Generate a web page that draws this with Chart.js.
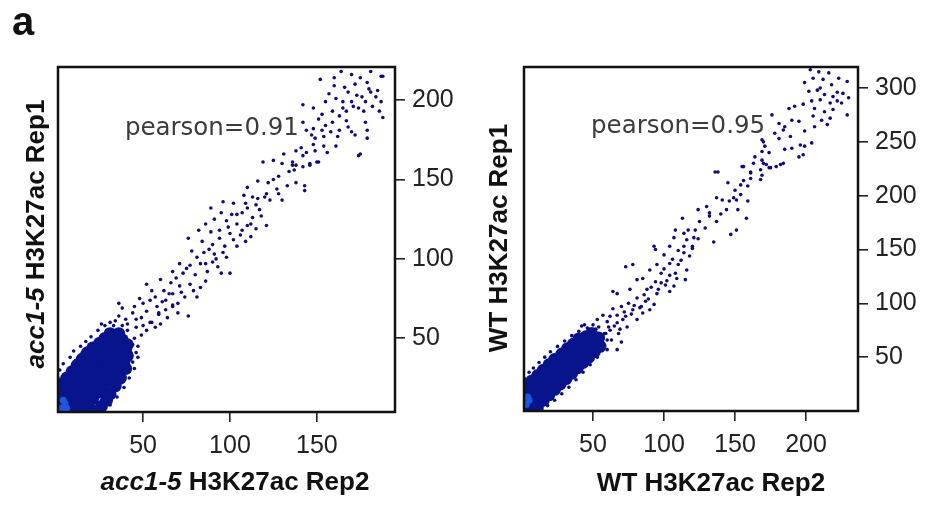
<!DOCTYPE html>
<html>
<head>
<meta charset="utf-8">
<script src="https://cdn.jsdelivr.net/npm/chart.js@4.4.1/dist/chart.umd.min.js"></script>
<style>
    body { margin: 0; background: #fff; }
    #wrap { position: relative; width: 925px; height: 506px; }
    canvas { position: absolute; top: 0; }
    #left { left: 0; }
    #right { left: 462px; }
</style>
</head>
<body>
<div id="wrap">
    <canvas id="left" width="462" height="506" style="width:462px;height:506px"></canvas>
    <canvas id="right" width="463" height="506" style="width:463px;height:506px"></canvas>
</div>
<script>
// tick labels
const leftXTicks = [50, 100, 150];
const leftYTicks = [50, 100, 150, 200];
const rightXTicks = [50, 100, 150, 200];
const rightYTicks = [50, 100, 150, 200, 250, 300];

// axis ranges (Rep2 on x, Rep1 on y)
const leftXRange = [1, 195];
const leftYRange = [3.6, 220.8];
const rightXRange = [1.4, 236.6];
const rightYRange = [0, 319.5];

// acc1-5: scattered points [Rep2, Rep1]
const leftCloud = [
    [164,218],[181,218],[187,215],[175,214],[152,213],[188,215],
    [160,209],[166,208],[179,211],[180,207],[181,205],[157,204],[168,205],[173,203],[176,202],[184,202],[187,199],[161,201],[165,199],[170,199],[178,199],
    [171,196],[174,195],[167,193],[182,196],[188,189],[159,193],[153,191],[142,197],[151,188],[163,190],[167,187],[159,186],[178,186],[142,186],
    [144,181],[148,182],[153,181],[158,180],[163,181],[168,183],[170,180],[179,181],[147,178],[149,176],[154,177],[162,177],[172,178],[179,176],
    [154,171],[161,171],[175,166],[138,168],[141,170],[144,167],[149,168],[156,167],[136,161],[138,159],[142,158],[146,159],[150,161],[137,156],[143,146],[174,165],
    [119,161],[125,162],[130,160],[136,159],[142,165],[146,160],[151,161],[116,149],[121,141],[127,144],[133,146],[138,148],[143,143],[130,137],
    [110,145],[108,140],[113,139],[120,139],[96,136],[102,135],[109,135],[115,134],[89,132],[95,129],[101,128],[107,129],[113,126],[118,127],[121,121],
    [91,125],[98,124],[104,122],[110,121],[115,119],[86,122],[82,118],[89,117],[94,118],[100,116],[106,115],[112,114],
    [76,113],[84,111],[90,109],[97,108],[104,108],[109,111],[78,105],[85,104],[91,103],[98,101],
    [71,97],[77,96],[83,97],[90,98],[100,91],[67,92],[73,91],[80,90],[87,92],
    [60,87],[66,85],[71,83],[77,84],[83,82],[52,84],[55,80],[62,80],[67,78],[74,76],[81,76],
    [48,75],[54,74],[61,73],[67,71],[76,64],[45,70],[52,67],[59,65],[64,63],[46,62],[54,60],[60,59],
    [38,69],[44,66],[49,63],[55,60],[34,61],[41,59],[46,57],[52,55],[57,57],[29,55],[22,46],[19,42],[44,46],[46,41],[44,35],[42,29],[38,23],[32,17],[26,11],
    [11,36],[7,30],[3,23],[15,41],[59,66],[63,74],[67,70],[36,72],
    [58,70],[63,68],[70,72],[72,79],[79,80],[86,86],[93,95],[96,104],[102,112],[107,118],[112,122],[117,131],[123,137],[128,141],
    [69,88],[75,94],[81,101],[88,106],[94,113],[99,120],[65,78],[57,76],[50,72],[70,66],[92,100],[95,91],[86,97],[104,128],[110,132],
    [116,138],[122,148],[128,152],[134,155],[131,166],[125,150],[148,172],[155,184],[165,195],[185,206],[177,193],[186,193],[172,210],
    [160,214],[170,216],[148,195],[155,199],
    [1,25],[2,30],[4,34],[8,38],[10,42],[14,45],[17,48],[20,51],[24,55],[28,58],[33,58],[38,58],[41,55],[45,50],[47,45],
    [47,38],[45,31],[42,25],[39,19],[35,13],[31,8],[27,5],[24,2],[40,62],[50,58],[49,52],[36,64],[31,60],[26,59]
];
// acc1-5: dense core near the origin
const leftCore = [
    [2,3],[5,6],[8,10],[11,14],[14,18],[17,22],[20,26],[23,30],[26,34],[29,38],[32,41],[35,45],[38,49],
    [1,9],[3,12],[6,16],[9,20],[12,24],[15,28],[18,32],[21,36],[24,40],[27,44],[30,47],[33,51],[36,53],
    [7,2],[10,5],[13,9],[16,13],[19,17],[22,21],[25,25],[28,29],[31,33],[34,36],[37,40],[40,43],[41,46],
    [1,16],[3,21],[6,25],[9,29],[12,33],[15,37],[18,41],[21,44],[25,47],[28,50],[31,53],
    [12,2],[15,5],[18,8],[21,12],[24,16],[27,20],[30,24],[33,28],[36,31],[39,35],[41,39],
    [22,4],[26,7],[29,11],[31,15],[34,20],[37,25],[40,31]
];
const leftPeak = [[3,6],[5,9],[4,11],[6,6]];

// WT: scattered points [Rep2, Rep1]
const rightCloud = [
    [203,317],[209,315],[216,314],[199,305],[205,309],[212,308],[223,309],[229,306],[202,297],[208,298],[213,294],[219,292],[226,295],[230,291],
    [204,288],[210,289],[217,286],[222,288],[206,281],[213,278],[219,280],[225,286],[205,274],[211,270],[217,272],[229,275],[215,266],[206,264],
    [188,281],[192,283],[195,269],[176,275],[185,264],[181,267],[189,255],[199,260],[204,249],[199,246],[196,247],[181,253],[184,261],[170,250],
    [169,241],[185,243],[190,244],[195,236],[198,238],[164,236],[169,233],[172,229],[179,227],[184,230],[175,226],[155,227],[161,222],[169,219],[161,216],
    [169,252],[171,246],[170,230],[168,224],[174,226],[182,229],[156,227],[161,221],[168,215],[136,222],[138,222],[145,212],[150,205],[154,210],
    [159,209],[159,195],[151,196],[154,201],[149,198],[137,198],[141,196],[144,187],[158,179],[132,181],[132,184],[124,187],[130,190],[137,176],
    [151,168],[147,164],[135,157],[125,176],[122,168],[117,168],[113,179],[108,168],[114,165],[107,161],[116,159],[121,161],[114,153],[104,153],[93,153],[120,153],
    [94,150],[100,145],[114,147],[120,151],[104,137],[110,136],[116,131],[95,136],[98,128],[104,126],[109,123],[115,122],[90,131],[85,123],
    [94,120],[101,117],[107,116],[104,111],[73,134],[78,136],[81,122],[88,113],[95,109],[76,113],[67,109],[81,105],[87,102],[93,99],[75,100],
    [70,97],[78,94],[85,91],[64,95],[67,89],[73,88],[81,85],[57,89],[60,83],[67,82],[74,78],[53,85],[54,78],[62,75],[68,72],[48,75],[57,69],
    [63,66],[44,80],[67,57],[60,57],[54,60],[70,64],[64,111],
    [59,72],[65,79],[71,85],[77,90],[83,96],[89,104],[96,113],[102,121],[108,128],[112,140],[118,144],[124,160],[129,170],[140,183],
    [146,195],[152,187],[156,214],[163,230],[174,240],[178,258],[190,270],[198,285],[210,300],[218,303],[222,296],
    [61,78],[69,76],[72,92],[79,98],[86,108],[91,115],[98,119],[100,132],[106,141],[110,149],[84,97],[90,94],[62,88],[50,80],
    [1,25],[2,30],[5,36],[8,40],[12,45],[16,50],[20,55],[25,60],[30,65],[35,70],[40,74],[46,77],[52,76],[58,72],[60,66],
    [57,58],[53,50],[48,43],[43,36],[38,29],[33,22],[28,16],[23,10],[18,5],[14,2],[42,79],[50,70],[56,64]
];
// WT: dense core near the origin
const rightCore = [
    [2,3],[6,8],[10,13],[14,18],[18,23],[22,28],[26,33],[30,38],[34,43],[38,48],[42,53],[46,58],[50,63],[54,68],
    [1,10],[3,14],[6,19],[9,24],[13,29],[17,34],[21,39],[25,44],[29,49],[33,54],[37,59],[41,64],[45,69],[49,72],
    [8,2],[11,5],[15,10],[19,15],[23,20],[27,25],[31,30],[35,35],[39,40],[43,45],[47,50],[51,55],[55,60],
    [1,18],[3,23],[7,28],[11,33],[15,38],[19,43],[23,48],[28,53],[32,58],[36,62],[40,67]
];
const rightPeak = [[3,6],[5,10],[4,13]];

const toXY = pts => pts.map(p => ({ x: p[0], y: p[1] }));

function drawParts(ctx, parts, cx, cy, angle) {
    let total = 0;
    parts.forEach(function(p) {
        ctx.font = (p[1] ? 'italic ' : '') + 'bold 26px "Liberation Sans"';
        total += ctx.measureText(p[0]).width;
    });
    ctx.save();
    ctx.translate(cx, cy);
    ctx.rotate(angle);
    ctx.textBaseline = 'middle';
    ctx.textAlign = 'left';
    ctx.fillStyle = '#111';
    let x = -total / 2;
    parts.forEach(function(p) {
        ctx.font = (p[1] ? 'italic ' : '') + 'bold 26px "Liberation Sans"';
        ctx.fillText(p[0], x, 0);
        x += ctx.measureText(p[0]).width;
    });
    ctx.restore();
}

const framePlugin = {
    id: 'frame',
    afterDatasetsDraw(chart, args, opts) {
        const a = chart.chartArea;
        const ctx = chart.ctx;
        ctx.save();
        ctx.strokeStyle = '#111';
        ctx.lineWidth = 2.5;
        ctx.strokeRect(a.left, a.top, a.right - a.left, a.bottom - a.top);

        ctx.font = '24.5px "DejaVu Sans"';
        ctx.fillStyle = '#3c3c3c';
        ctx.textBaseline = 'middle';
        ctx.textAlign = 'left';
        ctx.fillText(opts.pearson, chart.scales.x.getPixelForValue(opts.pearsonAt[0]), chart.scales.y.getPixelForValue(opts.pearsonAt[1]));

        if (opts.panel) {
            ctx.font = 'bold 40px "Liberation Sans"';
            ctx.fillStyle = '#111';
            ctx.textBaseline = 'alphabetic';
            ctx.fillText(opts.panel, 12, 35);
        }
        ctx.restore();

        drawParts(ctx, opts.xTitle, opts.xTitleAt[0], opts.xTitleAt[1], 0);
        drawParts(ctx, opts.yTitle, opts.yTitleAt[0], opts.yTitleAt[1], -Math.PI / 2);
    }
};

function axes(xr, yr, xt, yt, yWidth, xHeight) {
    const tickFont = { family: 'Liberation Sans', size: 25 };
    const grid = { display: true, drawOnChartArea: false, drawTicks: true, tickLength: 10, color: '#222', lineWidth: 1.6 };
    return {
        x: {
            type: 'linear', position: 'bottom', min: xr[0], max: xr[1],
            afterBuildTicks: function(s) { s.ticks = xt.map(v => ({ value: v })); },
            afterFit: function(s) { s.height = xHeight; },
            grid: grid,
            border: { display: false },
            ticks: { font: tickFont, color: '#222', padding: 9, maxRotation: 0, autoSkip: false, callback: v => String(v) }
        },
        y: {
            type: 'linear', position: 'right', min: yr[0], max: yr[1],
            afterBuildTicks: function(s) { s.ticks = yt.map(v => ({ value: v })); },
            afterFit: function(s) { s.width = yWidth; },
            grid: grid,
            border: { display: false },
            ticks: { font: tickFont, color: '#222', padding: 7, autoSkip: false, callback: v => String(v) }
        }
    };
}

function datasets(cloud, core, peak) {
    return [
        { data: toXY(peak), backgroundColor: '#1f55e0', pointRadius: 3.5, borderWidth: 0, order: 0 },
        { data: toXY(core), backgroundColor: '#08148c', pointRadius: 6.4, borderWidth: 0, order: 1 },
        { data: toXY(cloud), backgroundColor: '#0c0c7a', pointRadius: 1.8, borderWidth: 0, order: 2 }
    ];
}

function baseOptions(padLeft, scales, frame) {
    return {
        responsive: false,
        animation: false,
        devicePixelRatio: 1,
        events: [],
        layout: { padding: { left: padLeft, top: 67, right: 0, bottom: 0 } },
        scales: scales,
        plugins: { legend: { display: false }, tooltip: { enabled: false }, frame: frame }
    };
}

document.addEventListener('DOMContentLoaded', function() {
    new Chart(document.getElementById('left'), {
        type: 'scatter',
        data: { datasets: datasets(leftCloud, leftCore, leftPeak) },
        options: baseOptions(58, axes(leftXRange, leftYRange, leftXTicks, leftYTicks, 67, 94), {
            pearson: 'pearson=0.91', pearsonAt: [39.5, 182],
            panel: 'a',
            xTitle: [['acc1-5', true], [' H3K27ac Rep2', false]], xTitleAt: [235, 483],
            yTitle: [['acc1-5', true], [' H3K27ac Rep1', false]], yTitleAt: [37, 234]
        }),
        plugins: [framePlugin]
    });

    new Chart(document.getElementById('right'), {
        type: 'scatter',
        data: { datasets: datasets(rightCloud, rightCore, rightPeak) },
        options: baseOptions(62, axes(rightXRange, rightYRange, rightXTicks, rightYTicks, 67, 95), {
            pearson: 'pearson=0.95', pearsonAt: [48.6, 264],
            panel: '',
            xTitle: [['WT H3K27ac Rep2', false]], xTitleAt: [249, 484],
            yTitle: [['WT H3K27ac Rep1', false]], yTitleAt: [38, 238]
        }),
        plugins: [framePlugin]
    });
});
</script>
</body>
</html>
